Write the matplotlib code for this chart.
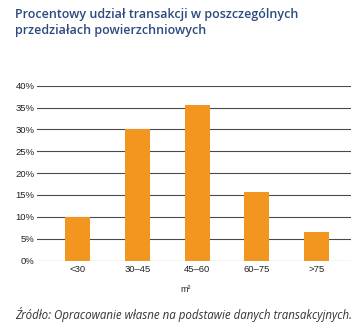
import matplotlib
matplotlib.use("Agg")
import matplotlib.pyplot as plt
from matplotlib import font_manager

# Share of transactions by floor-area bracket (m²), in percent
categories = ["<30", "30\u201345", "45\u201360", "60\u201375", ">75"]
shares = [10.0, 30.2, 35.6, 15.6, 6.6]
y_ticks = [0, 5, 10, 15, 20, 25, 30, 35, 40]
y_tick_labels = [f"{v}%" for v in y_ticks]

title = "Procentowy udział transakcji w poszczególnych\nprzedziałach powierzchniowych"
x_label = "m²"
source = "Źródło: Opracowanie własne na podstawie danych transakcyjnych."

W, H = 364, 336
fig = plt.figure(figsize=(W / 100, H / 100), dpi=100)
fig.patch.set_facecolor("white")

ax = fig.add_axes([37.3 / W, 1 - 260.5 / H, (350.7 - 37.3) / W, (260.5 - 85.8) / H])

installed = {f.name for f in font_manager.fontManager.ttflist}
narrow = ["Liberation Sans Narrow"] if "Liberation Sans Narrow" in installed else ["Liberation Sans", "DejaVu Sans"]

x = list(range(len(categories)))
ax.bar(x, shares, width=0.42, color="#F2961F", zorder=3)

ax.set_ylim(0, 40)
ax.set_xlim(-0.673, 4.57)
ax.set_yticks(y_ticks)
ax.set_yticklabels(y_tick_labels, family=narrow, fontsize=6.8, color="#222222")
ax.set_xticks(x)
ax.set_xticklabels(categories, family=narrow, fontsize=6.8, color="#222222")
ax.tick_params(axis="both", length=0, pad=3)
ax.tick_params(axis="y", pad=2)

ax.yaxis.grid(True, color="#4a4a4a", linewidth=0.8, zorder=1)
ax.xaxis.grid(False)
for s in ax.spines.values():
    s.set_visible(False)
ax.set_facecolor("white")

fig.text(186 / W, 1 - 289 / H, x_label, ha="center", va="center",
         family=narrow, fontsize=6.5, color="#222222")

fig.text(15 / W, 1 - 8 / H, title, ha="left", va="top",
         family=["Open Sans", "DejaVu Sans"], fontsize=9.0, weight="semibold",
         color="#2B4A7E", linespacing=1.3)

fig.text(15 / W, 1 - 315 / H, source, ha="left", va="center",
         family=["Open Sans", "DejaVu Sans"], style="italic",
         fontsize=8.3, color="#333333")

fig.savefig("out.png", dpi=100, facecolor="white")
